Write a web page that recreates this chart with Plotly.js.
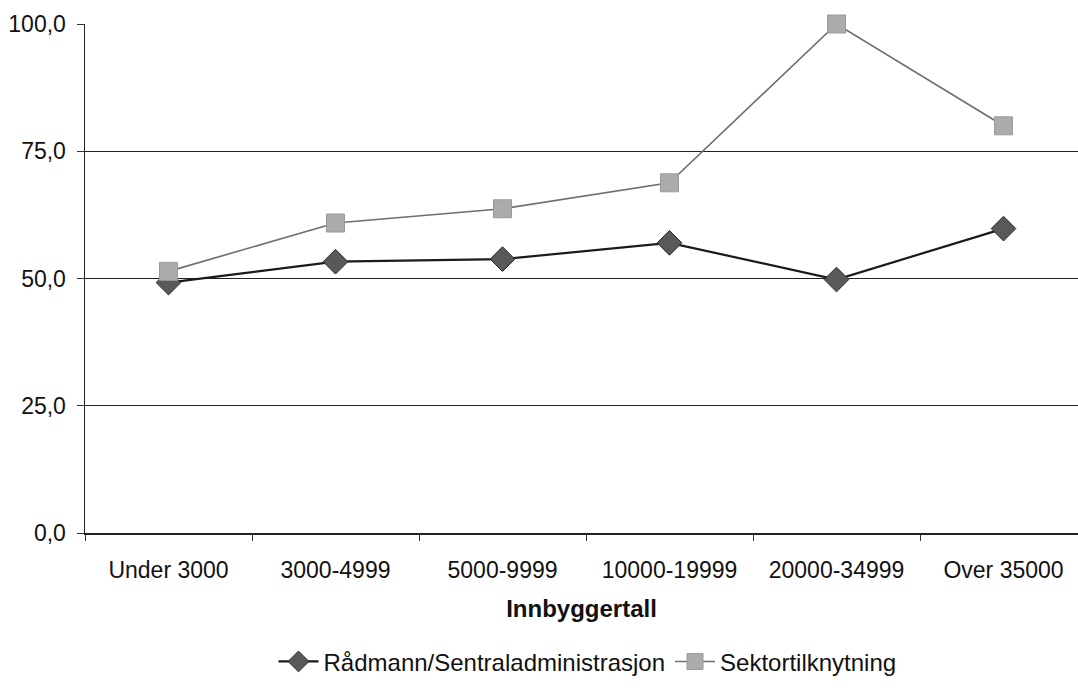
<!DOCTYPE html>
<html>
<head>
<meta charset="utf-8">
<script src="https://cdn.plot.ly/plotly-3.0.1.min.js"></script>
<style>
  html, body { margin: 0; padding: 0; background: #fff; }
  #chart { width: 1078px; height: 688px; }
</style>
</head>
<body>
<div id="chart"></div>
<script>
// Municipality size groups (number of inhabitants)
const categories = ["Under 3000", "3000-4999", "5000-9999", "10000-19999", "20000-34999", "Over 35000"];

// Share (%) per group
const raadmann = [49.2, 53.3, 53.8, 57.0, 49.8, 59.8];
const sektor   = [51.4, 60.9, 63.7, 68.8, 100.0, 80.0];

const seriesNames = ["Rådmann/Sentraladministrasjon", "Sektortilknytning"];
const yTicks = [0, 25, 50, 75, 100];

const font = "Liberation Sans, Arial, sans-serif";

const traces = [
  {
    x: categories, y: raadmann, name: seriesNames[0],
    type: "scatter", mode: "lines+markers", cliponaxis: false,
    line: { color: "#1a1a1a", width: 2.2 },
    marker: { symbol: "diamond", size: 19, color: "#595959", line: { color: "#2a2a2a", width: 1 } }
  },
  {
    x: categories, y: sektor, name: seriesNames[1],
    type: "scatter", mode: "lines+markers", cliponaxis: false,
    line: { color: "#6e6e6e", width: 1.6 },
    marker: { symbol: "square", size: 18, color: "#ababab", line: { color: "#9a9a9a", width: 1 } }
  }
];

const layout = {
  width: 1078, height: 688,
  margin: { l: 85, r: 0, t: 24, b: 155 },
  paper_bgcolor: "#fff", plot_bgcolor: "#fff",
  separators: ",.",
  font: { family: font, size: 23, color: "#111" },
  showlegend: true,
  legend: {
    orientation: "h", xref: "container", yref: "container",
    x: 0.545, xanchor: "center", y: 0.038, yanchor: "middle",
    font: { family: font, size: 24, color: "#111" },
    itemwidth: 40, tracegroupgap: 0
  },
  xaxis: {
    type: "category",
    range: [-0.5, 5.446],
    tickson: "boundaries",
    ticks: "outside", ticklen: 6, tickcolor: "#333",
    ticklabelstandoff: 16,
    showgrid: false, zeroline: false,
    showline: true, linecolor: "#222", linewidth: 1.5,
    tickfont: { family: font, size: 23, color: "#111" },
    title: { text: "<b>Innbyggertall</b>", font: { family: font, size: 24, color: "#111" }, standoff: 18 }
  },
  yaxis: {
    range: [0, 100],
    tickvals: yTicks,
    tickformat: ".1f",
    ticks: "outside", ticklen: 7, tickcolor: "#333",
    ticklabelstandoff: 6,
    showgrid: true, gridcolor: "#222", gridwidth: 1,
    showline: true, linecolor: "#222", linewidth: 1.5,
    zeroline: false,
    tickfont: { family: font, size: 23, color: "#111" },
    automargin: false
  }
};

Plotly.newPlot("chart", traces, layout, { displayModeBar: false, staticPlot: true });
</script>
</body>
</html>
